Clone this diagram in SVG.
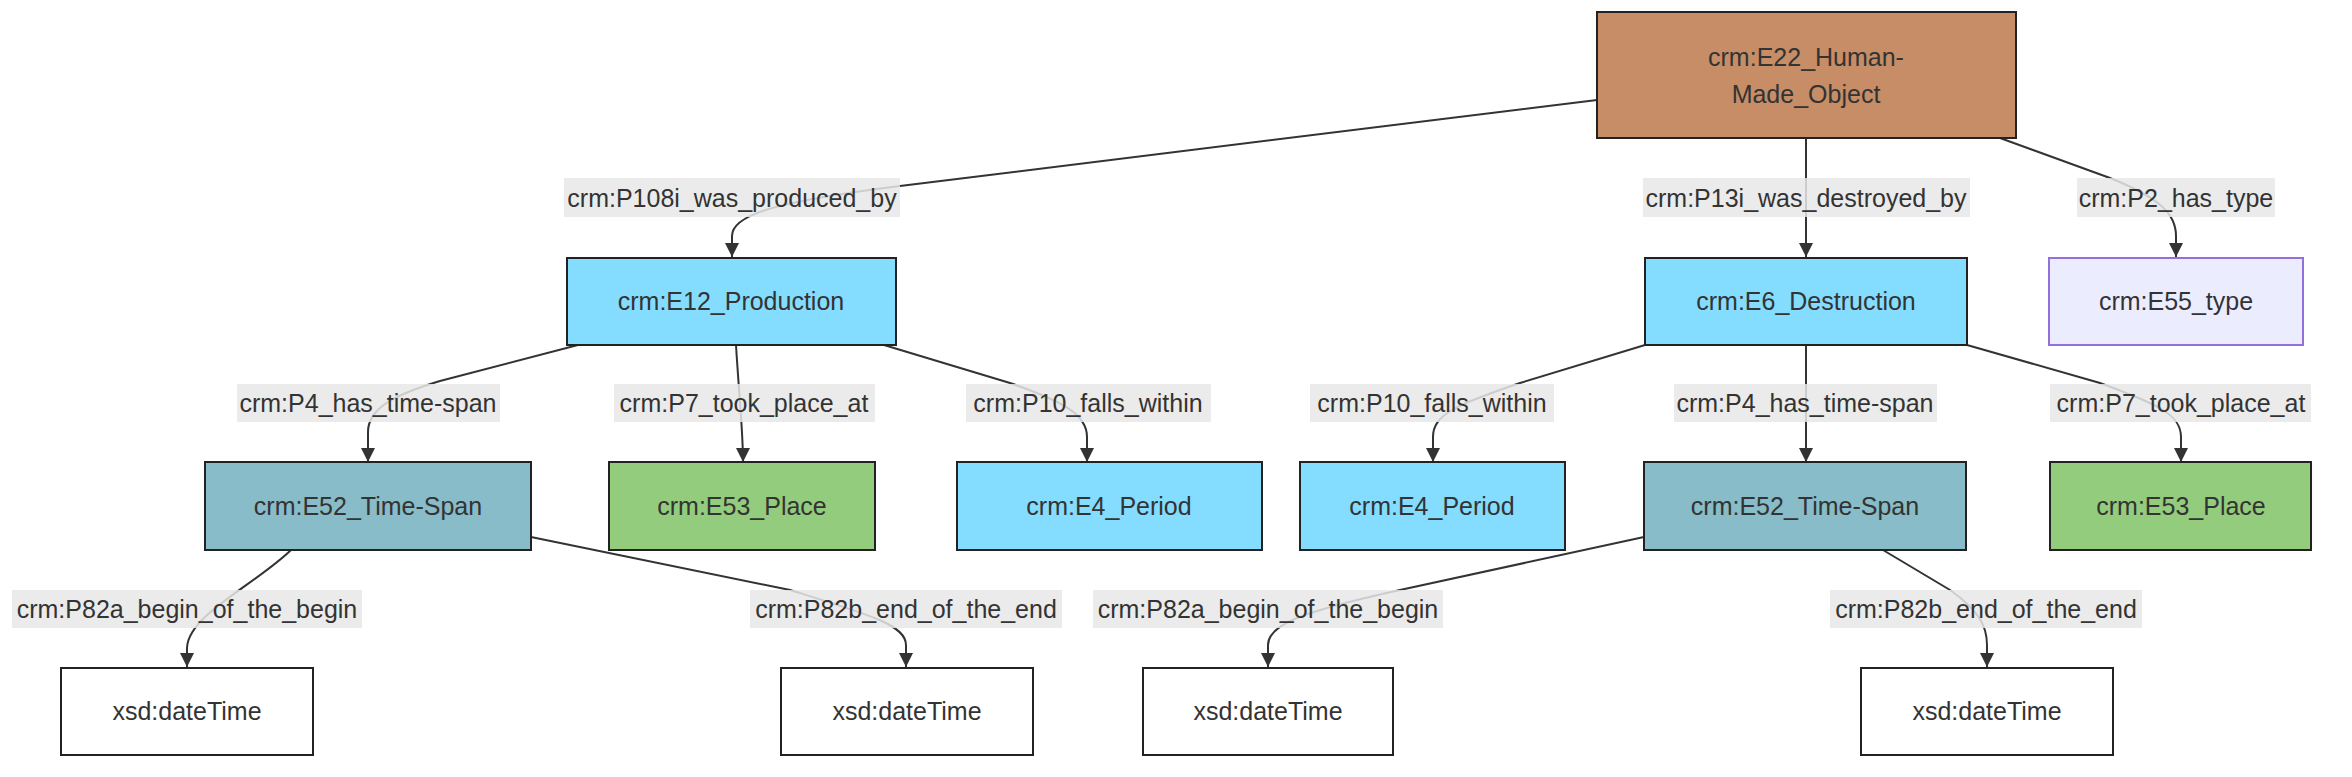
<svg xmlns="http://www.w3.org/2000/svg" width="2352" height="777" viewBox="0 0 2352 777">
<style>
text{font-family:"Liberation Sans",Arial,sans-serif;font-size:25px;fill:#333;text-anchor:middle;dominant-baseline:central}
.n{stroke:#222;stroke-width:2}
.blue{fill:#84dcff}
.ts{fill:#87bcc8}
.pl{fill:#94cc7d}
.wh{fill:#fff}
.e{fill:none;stroke:#333;stroke-width:2;marker-end:url(#arr)}
.lb{fill:#e8e8e8;opacity:0.85}
</style>
<defs>
<marker id="arr" viewBox="0 0 10 10" refX="10" refY="5" markerUnits="userSpaceOnUse" markerWidth="14" markerHeight="14" orient="auto">
<path d="M0,0 L10,5 L0,10 z" fill="#333"/>
</marker>
</defs>
<rect width="2352" height="777" fill="#fff"/>
<g id="connectors">
<path class="e" d="M1597,100 L900,186 C780,201 732,214 732,236 L732,257"/>
<path class="e" d="M1806,138 L1806,257"/>
<path class="e" d="M2000,138 L2110,178 C2160,198 2176,214 2176,236 L2176,257"/>
<path class="e" d="M578,345 L440,381 C390,396 368,410 368,432 L368,462"/>
<path class="e" d="M736,345 C739,395 743,430 743,462"/>
<path class="e" d="M884,345 L1010,383 C1065,402 1087,415 1087,437 L1087,462"/>
<path class="e" d="M1645,345 L1520,383 C1455,405 1433,415 1433,437 L1433,462"/>
<path class="e" d="M1806,345 L1806,462"/>
<path class="e" d="M1967,345 L2100,383 C2160,405 2181,415 2181,437 L2181,462"/>
<path class="e" d="M1644,537 L1400,590 C1300,612 1268,625 1268,645 L1268,667"/>
<path class="e" d="M1883,550 L1950,590 C1978,610 1987,625 1987,645 L1987,667"/>
<path class="e" d="M291,550 C255,585 188,615 187,648 L187,667"/>
<path class="e" d="M531,537 L790,590 C870,615 906,625 906,645 L906,667"/>
</g>
<g id="edge-labels">
<rect class="lb" x="564" y="178" width="336" height="39"/><text x="732" y="197.5">crm:P108i_was_produced_by</text>
<rect class="lb" x="1643" y="178" width="327" height="39"/><text x="1806" y="197.5">crm:P13i_was_destroyed_by</text>
<rect class="lb" x="2077" y="178" width="198" height="39"/><text x="2176" y="197.5">crm:P2_has_type</text>
<rect class="lb" x="237" y="384" width="263" height="38"/><text x="368" y="403">crm:P4_has_time-span</text>
<rect class="lb" x="614" y="384" width="261" height="38"/><text x="744" y="403">crm:P7_took_place_at</text>
<rect class="lb" x="966" y="384" width="245" height="38"/><text x="1088" y="403">crm:P10_falls_within</text>
<rect class="lb" x="1310" y="384" width="244" height="38"/><text x="1432" y="403">crm:P10_falls_within</text>
<rect class="lb" x="1674" y="384" width="263" height="38"/><text x="1805" y="403">crm:P4_has_time-span</text>
<rect class="lb" x="2050" y="384" width="261" height="38"/><text x="2181" y="403">crm:P7_took_place_at</text>
<rect class="lb" x="12" y="590" width="350" height="38"/><text x="187" y="609">crm:P82a_begin_of_the_begin</text>
<rect class="lb" x="750" y="590" width="312" height="38"/><text x="906" y="609">crm:P82b_end_of_the_end</text>
<rect class="lb" x="1093" y="590" width="350" height="38"/><text x="1268" y="609">crm:P82a_begin_of_the_begin</text>
<rect class="lb" x="1830" y="590" width="312" height="38"/><text x="1986" y="609">crm:P82b_end_of_the_end</text>
</g>
<g id="E22">
<rect class="n" x="1597" y="12" width="419" height="126" fill="#c78d66"/>
<text x="1806" y="57">crm:E22_Human-</text>
<text x="1806" y="94">Made_Object</text>
</g>
<g id="E12">
<rect class="n blue" x="567" y="258" width="329" height="87"/>
<text x="731" y="301">crm:E12_Production</text>
</g>
<g id="E6">
<rect class="n blue" x="1645" y="258" width="322" height="87"/>
<text x="1806" y="301">crm:E6_Destruction</text>
</g>
<g id="E55">
<rect x="2049" y="258" width="254" height="87" fill="#ececff" stroke="#9370db" stroke-width="2"/>
<text x="2176" y="301">crm:E55_type</text>
</g>
<g id="E52a">
<rect class="n ts" x="205" y="462" width="326" height="88"/>
<text x="368" y="506">crm:E52_Time-Span</text>
</g>
<g id="E53a">
<rect class="n pl" x="609" y="462" width="266" height="88"/>
<text x="742" y="506">crm:E53_Place</text>
</g>
<g id="E4a">
<rect class="n blue" x="957" y="462" width="305" height="88"/>
<text x="1109" y="506">crm:E4_Period</text>
</g>
<g id="E4b">
<rect class="n blue" x="1300" y="462" width="265" height="88"/>
<text x="1432" y="506">crm:E4_Period</text>
</g>
<g id="E52b">
<rect class="n ts" x="1644" y="462" width="322" height="88"/>
<text x="1805" y="506">crm:E52_Time-Span</text>
</g>
<g id="E53b">
<rect class="n pl" x="2050" y="462" width="261" height="88"/>
<text x="2181" y="506">crm:E53_Place</text>
</g>
<g id="xsd1">
<rect class="n wh" x="61" y="668" width="252" height="87"/>
<text x="187" y="711">xsd:dateTime</text>
</g>
<g id="xsd2">
<rect class="n wh" x="781" y="668" width="252" height="87"/>
<text x="907" y="711">xsd:dateTime</text>
</g>
<g id="xsd3">
<rect class="n wh" x="1143" y="668" width="250" height="87"/>
<text x="1268" y="711">xsd:dateTime</text>
</g>
<g id="xsd4">
<rect class="n wh" x="1861" y="668" width="252" height="87"/>
<text x="1987" y="711">xsd:dateTime</text>
</g>
</svg>
